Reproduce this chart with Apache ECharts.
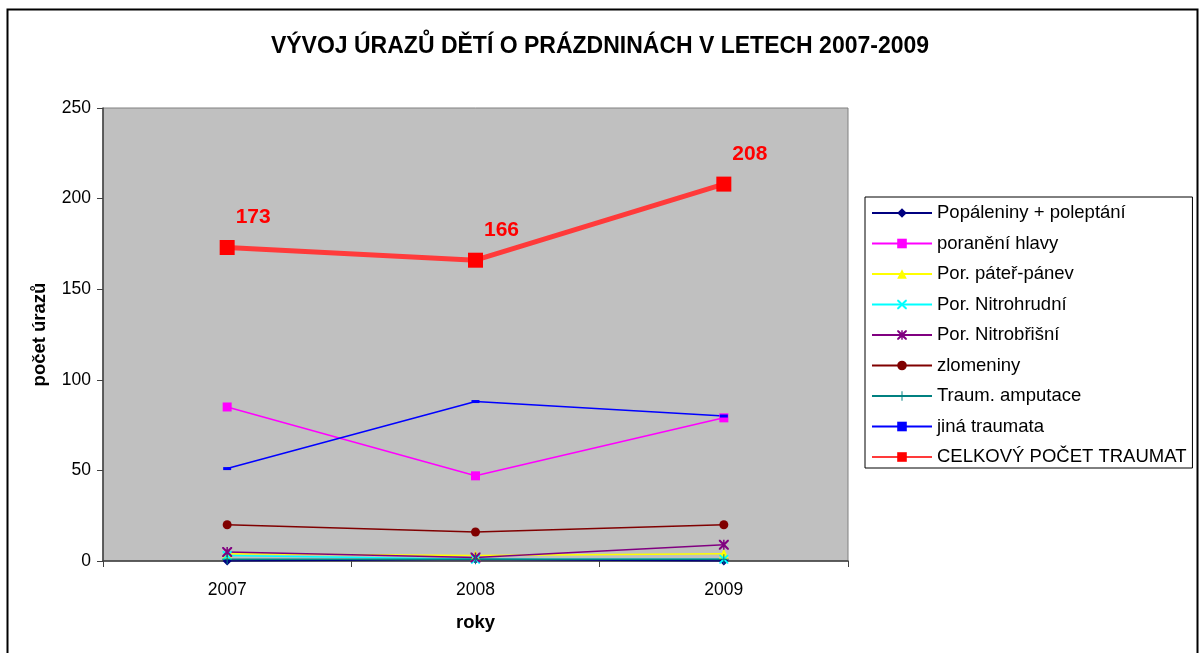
<!DOCTYPE html>
<html>
<head>
<meta charset="utf-8">
<script src="https://cdn.jsdelivr.net/npm/echarts@6/dist/echarts.min.js"></script>
<style>
  html, body { margin: 0; padding: 0; background: #fff; }
  #chart { width: 1200px; height: 653px; }
</style>
</head>
<body>
<div id="chart"></div>
<script>
var myChart = echarts.init(document.getElementById('chart'));

// data
var years = ['2007', '2008', '2009'];
var popaleniny = [0, 1, 0];
var poraneniHlavy = [85, 47, 79];
var paterPanev = [4, 3, 4];
var nitrohrudni = [3, 1, 1];
var nitrobrisni = [5, 2, 9];
var zlomeniny = [20, 16, 20];
var amputace = [1, 1, 1];
var jinaTraumata = [51, 88, 80];
var celkem = [173, 166, 208];

// custom symbols
var xMark = 'path://M0,0 L3,0 L10,7 L17,0 L20,0 L20,3 L13,10 L20,17 L20,20 L17,20 L10,13 L3,20 L0,20 L0,17 L7,10 L0,3 Z';
var starMark = 'path://M0,0 L3,0 L8.5,5.5 L8.5,0 L11.5,0 L11.5,5.5 L17,0 L20,0 L20,3 L13,10 L20,17 L20,20 L17,20 L11.5,14.5 L11.5,20 L8.5,20 L8.5,14.5 L3,20 L0,20 L0,17 L7,10 L0,3 Z';
var plusMark = 'path://M9,0 H11 V9 H20 V11 H11 V20 H9 V11 H0 V9 H9 Z';

function small(name, data, color, symbol, size) {
    return {
        name: name,
        type: 'line',
        data: data,
        symbol: symbol,
        symbolSize: size,
        lineStyle: { color: color, width: 1.5 },
        itemStyle: { color: color },
        z: 3
    };
}

var option = {
    backgroundColor: '#fff',
    animation: false,
    title: {
        text: 'VÝVOJ ÚRAZŮ DĚTÍ O PRÁZDNINÁCH V LETECH 2007-2009',
        left: 'center',
        top: 30,
        textStyle: {
            fontFamily: 'Liberation Sans',
            fontSize: 23,
            fontWeight: 'bold',
            color: '#000'
        }
    },
    graphic: [{
        type: 'rect',
        shape: { x: 7.5, y: 9.5, width: 1190, height: 700 },
        style: { fill: null, stroke: '#000', lineWidth: 2 },
        silent: true
    }],
    legend: {
        orient: 'vertical',
        left: 865,
        top: 197,
        padding: [6, 6, 1, 6],
        itemGap: 10.5,
        itemWidth: 60,
        itemHeight: 12,
        borderColor: '#000',
        borderWidth: 1,
        backgroundColor: '#fff',
        textStyle: {
            fontFamily: 'Liberation Sans',
            fontSize: 18.5,
            lineHeight: 20,
            color: '#000'
        },
        data: ['Popáleniny + poleptání', 'poranění hlavy', 'Por. páteř-pánev', 'Por. Nitrohrudní',
               'Por. Nitrobřišní', 'zlomeniny', 'Traum. amputace', 'jiná traumata', 'CELKOVÝ POČET TRAUMAT']
    },
    grid: {
        left: 103,
        right: 352,
        top: 108,
        bottom: 92,
        show: true,
        backgroundColor: '#c0c0c0',
        borderColor: '#808080',
        borderWidth: 1
    },
    xAxis: {
        type: 'category',
        data: years,
        boundaryGap: true,
        name: 'roky',
        nameLocation: 'middle',
        nameGap: 52,
        nameTextStyle: { fontFamily: 'Liberation Sans', fontSize: 18.5, fontWeight: 'bold', color: '#000' },
        axisLine: { lineStyle: { color: '#404040', width: 1.5 } },
        axisTick: { show: true, length: 6, lineStyle: { color: '#404040' } },
        axisLabel: { fontFamily: 'Liberation Sans', fontSize: 17.5, color: '#000', margin: 20 }
    },
    yAxis: {
        type: 'value',
        min: 0,
        max: 250,
        interval: 50,
        name: 'počet úrazů',
        nameLocation: 'middle',
        nameGap: 54,
        nameTextStyle: { fontFamily: 'Liberation Sans', fontSize: 18.5, fontWeight: 'bold', color: '#000' },
        axisLine: { show: true, lineStyle: { color: '#404040', width: 1.5 } },
        axisTick: { show: true, inside: false, length: 6, lineStyle: { color: '#404040' } },
        splitLine: { show: false },
        axisLabel: { fontFamily: 'Liberation Sans', fontSize: 17.5, color: '#000', margin: 12 }
    },
    series: [
        small('Popáleniny + poleptání', popaleniny, '#000080', 'diamond', 9),
        small('poranění hlavy', poraneniHlavy, '#ff00ff', 'rect', 9),
        small('Por. páteř-pánev', paterPanev, '#ffff00', 'triangle', 10),
        small('Por. Nitrohrudní', nitrohrudni, '#00ffff', xMark, 9),
        small('Por. Nitrobřišní', nitrobrisni, '#800080', starMark, 10),
        small('zlomeniny', zlomeniny, '#800000', 'circle', 9),
        small('Traum. amputace', amputace, '#008080', plusMark, 10),
        small('jiná traumata', jinaTraumata, '#0000ff', 'rect', [8, 3]),
        {
            name: 'CELKOVÝ POČET TRAUMAT',
            type: 'line',
            data: celkem,
            symbol: 'rect',
            symbolSize: 15,
            lineStyle: { color: '#ff3a3a', width: 5 },
            itemStyle: { color: '#ff0000' },
            z: 5,
            label: {
                show: true,
                position: 'top',
                distance: 8,
                offset: [26, -4],
                fontFamily: 'Liberation Sans',
                fontSize: 21,
                fontWeight: 'bold',
                color: '#ff0000'
            }
        }
    ]
};

myChart.setOption(option);
</script>
</body>
</html>
